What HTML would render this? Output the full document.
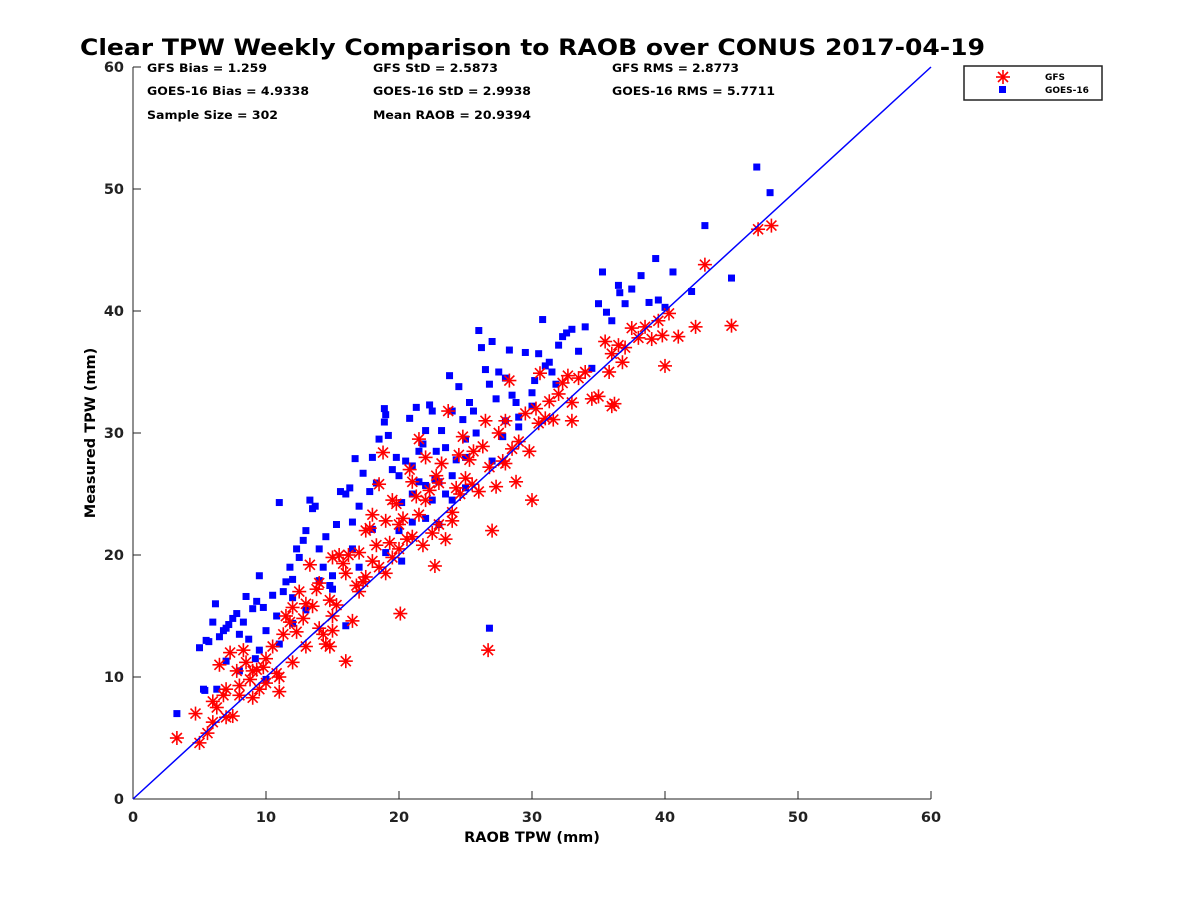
<!DOCTYPE html>
<html><head><meta charset="utf-8"><style>
body{margin:0;background:#fff;width:1200px;height:900px;overflow:hidden}
svg text{font-family:"DejaVu Sans","Liberation Sans",sans-serif;font-weight:bold}
</style></head><body>
<svg id="chart" width="1200" height="900" xmlns="http://www.w3.org/2000/svg">
<text x="80" y="55" font-size="22" textLength="905" lengthAdjust="spacingAndGlyphs">Clear TPW Weekly Comparison to RAOB over CONUS 2017-04-19</text>
<g font-size="11.5">
<text x="147" y="72" textLength="120" lengthAdjust="spacingAndGlyphs">GFS Bias = 1.259</text>
<text x="147" y="95" textLength="162" lengthAdjust="spacingAndGlyphs">GOES-16 Bias = 4.9338</text>
<text x="147" y="119" textLength="131" lengthAdjust="spacingAndGlyphs">Sample Size = 302</text>
<text x="373" y="72" textLength="125" lengthAdjust="spacingAndGlyphs">GFS StD = 2.5873</text>
<text x="373" y="95" textLength="158" lengthAdjust="spacingAndGlyphs">GOES-16 StD = 2.9938</text>
<text x="373" y="119" textLength="158" lengthAdjust="spacingAndGlyphs">Mean RAOB = 20.9394</text>
<text x="612" y="72" textLength="127" lengthAdjust="spacingAndGlyphs">GFS RMS = 2.8773</text>
<text x="612" y="95" textLength="163" lengthAdjust="spacingAndGlyphs">GOES-16 RMS = 5.7711</text>
</g>
<g id="axes"></g>
<g id="marks"></g>
<g>
<rect x="964" y="66" width="138" height="34" fill="#fff" stroke="#222" stroke-width="1.5"/>
<g stroke="red" stroke-width="1.6" transform="translate(1003,77)"><line x1="-7" y1="0" x2="7" y2="0"/><line x1="0" y1="-7" x2="0" y2="7"/><line x1="-5" y1="-5" x2="5" y2="5"/><line x1="-5" y1="5" x2="5" y2="-5"/></g>
<rect x="999" y="86" width="7" height="7" fill="blue"/>
<text x="1045" y="80" font-size="9">GFS</text>
<text x="1045" y="93" font-size="9">GOES-16</text>
</g>
<text x="532" y="842" font-size="14.5" text-anchor="middle">RAOB TPW (mm)</text>
<text transform="translate(95,433) rotate(-90)" font-size="14.5" text-anchor="middle">Measured TPW (mm)</text>
</svg>
<script>
const xTicks=[0,10,20,30,40,50,60];
const yTicks=[0,10,20,30,40,50,60];
const goesX=[3.3,5,5.3,5.5,5.7,6,6.2,6.5,6.8,7,7.2,7.5,7.8,8,8.3,8.5,8.7,9,9.3,9.5,9.8,10,10.5,11,11.3,11.5,11.8,12,12.3,12.5,12.8,13,13.3,13.5,13.7,14,14.3,14.5,14.8,15,15.3,15.6,16,16.3,16.5,16.7,17,17.3,17.8,18,18.3,18.5,18.9,18.9,19,19.2,19.5,19.8,20,20.2,20.5,20.8,21,21.3,21.5,21.8,22,22.3,22.5,22.8,23,23.2,23.5,23.8,24,24.3,24.5,24.8,25,25.3,25.6,25.8,26,26.2,26.5,26.8,27,27.3,27.5,27.8,28,28.3,28.5,28.8,29,29.5,30,30.2,30.5,30.8,31,31.3,31.5,31.8,32,32.3,32.6,33,33.5,34,34.5,35,35.3,35.6,36,36.5,36.6,37,37.5,38.2,38.8,39.3,39.5,40,40.6,42,43,45,46.9,47.9,26.8,22,23,20,21,22.5,24,25,15,12,10.8,9.2,8,7,6.3,5.4,10,11,12,16,17,19,20.2,21,22,23.5,24,25,27,28,29,30,16.5,14,18,21.5,22.7,13,9.5];
const goesY=[7,12.4,9,13,12.9,14.5,16,13.3,13.8,14,14.3,14.8,15.2,13.5,14.5,16.6,13.1,15.6,16.2,18.3,15.7,13.8,16.7,24.3,17,17.8,19,18,20.5,19.8,21.2,22,24.5,23.8,24,20.5,19,21.5,17.5,18.3,22.5,25.2,25,25.5,22.7,27.9,24,26.7,25.2,28,25.9,29.5,30.9,32,31.5,29.8,27,28,26.5,24.3,27.7,31.2,27.3,32.1,28.5,29.1,30.2,32.3,31.8,28.5,26,30.2,28.8,34.7,31.8,27.8,33.8,31.1,29.5,32.5,31.8,30,38.4,37,35.2,34,37.5,32.8,35,29.7,34.5,36.8,33.1,32.5,31.3,36.6,33.3,34.3,36.5,39.3,35.5,35.8,35,34,37.2,37.9,38.2,38.5,36.7,38.7,35.3,40.6,43.2,39.9,39.2,42.1,41.5,40.6,41.8,42.9,40.7,44.3,40.9,40.3,43.2,41.6,47,42.7,51.8,49.7,14,23,22.5,22,25,24.5,26.5,28,17.2,16.5,15,11.5,10.5,11.3,9,8.9,9.8,12.7,14.4,14.2,19,20.2,19.5,22.7,25.7,25,24.5,25.5,27.7,31,30.5,32.2,20.5,17.9,22.1,26,26.2,15.5,12.2];
const gfsX=[3.3,4.7,5,5.6,6,6.3,6.5,6.8,7,7.3,7.5,7.8,8,8.3,8.5,8.8,9,9.3,9.5,9.8,10,10.5,10.8,11,11.3,11.5,11.8,12,12.3,12.5,12.8,13,13.3,13.5,13.8,14,14.3,14.5,14.8,15,15.3,15.5,15.8,16,16.2,16.5,16.8,17,17.3,17.5,17.8,18,18.3,18.5,18.8,19,19.3,19.5,19.8,20,20.1,20.3,20.6,21,21.3,21.5,21.8,22,22.3,22.5,22.7,23,23.2,23.5,23.7,24,24.3,24.5,24.8,25,25.3,25.6,26,26.3,26.5,26.7,27,27.3,27.5,27.8,28,28.3,28.5,28.8,29,29.5,30,30.3,30.6,31,31.3,31.6,32,32.3,32.7,33,33.5,34,34.5,35,35.5,35.8,36,36.2,36.5,36.8,37,37.5,38,38.5,39,39.5,39.8,40,40.3,41,42.3,43,45,47,48,22,23,24,21,20,19,18,17,16,15,14,13,12,11,10,9,8,7,6,22.8,24.6,25.5,26.8,29.8,30.5,19.5,20.8,18.5,17.5,15,14.8,36,33,28,21.5];
const gfsY=[5,7,4.6,5.4,6.3,7.5,11,8.5,6.7,12,6.8,10.5,9.3,12.2,11.2,9.8,8.3,10.6,9,10.8,11.5,12.5,10.3,8.8,13.5,15,14.5,15.7,13.7,17,14.8,16,19.2,15.8,17.2,17.7,13.5,12.7,16.3,13.8,15.9,20,19.3,11.3,20,14.6,17.5,20.2,17.8,22,22.2,23.3,20.8,25.8,28.4,22.8,21,19.8,24.2,22.5,15.2,23,21.3,26,24.8,23.3,20.8,24.5,25.3,21.8,19.1,25.9,27.5,21.3,31.8,22.8,25.5,28.2,29.7,26.3,27.8,28.5,25.2,28.9,31,12.2,22,25.6,30,27.7,31,34.3,28.7,26,29.3,31.6,24.5,32,34.9,31.2,32.6,31.1,33.2,34.1,34.7,31,34.5,35,32.8,33,37.5,35,36.5,32.4,37.2,35.8,37,38.6,37.8,38.7,37.7,39.2,38,35.5,39.8,37.9,38.7,43.8,38.8,46.7,47,28,22.5,23.5,21.5,20.5,18.5,19.5,17,18.5,15,14,12.5,11.2,10,9.5,10.5,8.5,9,8,26.5,25,25.8,27.2,28.5,30.8,24.5,27,19,18.2,19.8,12.5,32.2,32.5,27.5,29.5];
const X0=133,X1=931,Y0=799,Y1=67;
const sx=v=>X0+(v-0)/60*(X1-X0);
const sy=v=>Y0-(v-0)/60*(Y0-Y1);
const NS="http://www.w3.org/2000/svg";
function mk(tag,attrs,parent){const e=document.createElementNS(NS,tag);for(const k in attrs)e.setAttribute(k,attrs[k]);parent.appendChild(e);return e;}
const ax=document.getElementById('axes'),mg=document.getElementById('marks');
const xa=mk('line',{x1:X0,y1:Y0,x2:X1,y2:Y0,stroke:'#222','stroke-width':1},ax);


const ya=mk('line',{x1:X0,y1:Y0,x2:X0,y2:Y1,stroke:'#222','stroke-width':1},ax);


xTicks.forEach(t=>{
 mk('line',{x1:sx(t),y1:Y0,x2:sx(t),y2:Y0-8,stroke:'#222'},ax);
 const tx=mk('text',{x:sx(t),y:Y0+23,'font-size':14.5,'text-anchor':'middle',fill:'#222'},ax);tx.textContent=t;
 
 
});
yTicks.forEach(t=>{
 mk('line',{x1:X0,y1:sy(t),x2:X0+8,y2:sy(t),stroke:'#222'},ax);
 const tx=mk('text',{x:X0-9,y:sy(t)+5,'font-size':14.5,'text-anchor':'end',fill:'#222'},ax);tx.textContent=t;
 
 
});
goesX.forEach((v,i)=>{
 const r=mk('rect',{x:sx(v)-3.5,y:sy(goesY[i])-3.5,width:7,height:7,fill:'blue'},mg);
 
 
});
gfsX.forEach((v,i)=>{
 const cx=sx(v),cy=sy(gfsY[i]);
 const g=mk('g',{stroke:'red','stroke-width':1.6,transform:`translate(${cx},${cy})`},mg);
 
 
 mk('line',{x1:-7,y1:0,x2:7,y2:0},g);mk('line',{x1:0,y1:-7,x2:0,y2:7},g);
 mk('line',{x1:-5,y1:-5,x2:5,y2:5},g);mk('line',{x1:-5,y1:5,x2:5,y2:-5},g);
});
const one=mk('line',{x1:sx(0),y1:sy(0),x2:sx(60),y2:sy(60),stroke:'blue','stroke-width':1.5},mg);


</script>
</body></html>
